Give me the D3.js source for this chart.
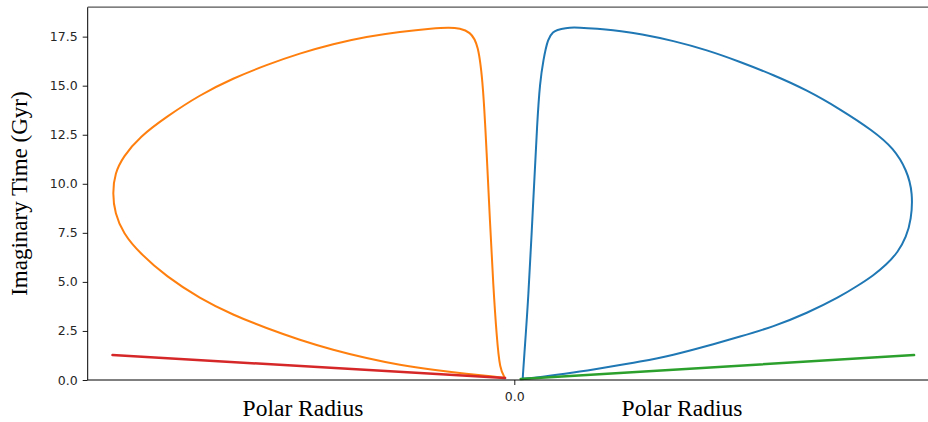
<!DOCTYPE html>
<html>
<head>
<meta charset="utf-8">
<script src="https://cdn.jsdelivr.net/npm/d3@7"></script>
<style>
  html, body { margin: 0; padding: 0; background: #fff; }
  svg { display: block; }
</style>
</head>
<body>
<div id="chart"></div>
<script>
// Polar radius vs imaginary time: two loops and two straight tracks
var blueR = [0.021, 0.024, 0.035, 0.0475, 0.0575, 0.064, 0.0725, 0.084, 0.0975, 0.106, 0.129, 0.1475, 0.181, 0.231, 0.264, 0.314, 0.3975, 0.481, 0.564, 0.6475, 0.731, 0.814, 0.8975, 0.9475, 0.981, 0.996, 0.9918, 0.9793, 0.959, 0.929, 0.8975, 0.857, 0.814, 0.731, 0.6475, 0.564, 0.481, 0.3975, 0.314, 0.231, 0.1475, 0.064, 0.021];
var blueT = [0.07, 1.02, 4.08, 9.17, 13.25, 15.14, 16.31, 17.43, 17.75, 17.84, 17.94, 17.97, 17.94, 17.87, 17.79, 17.64, 17.29, 16.82, 16.22, 15.55, 14.78, 13.81, 12.69, 11.82, 10.70, 9.52, 8.15, 7.29, 6.52, 5.86, 5.33, 4.79, 4.25, 3.40, 2.72, 2.21, 1.73, 1.27, 0.93, 0.65, 0.37, 0.14, 0.07];

var orangeR = [-0.023, -0.036, -0.044, -0.0525, -0.061, -0.069, -0.0775, -0.09, -0.111, -0.136, -0.161, -0.2025, -0.286, -0.369, -0.4525, -0.536, -0.619, -0.7025, -0.786, -0.869, -0.936, -0.9775, -0.998, -1.004, -0.998, -0.9775, -0.936, -0.869, -0.786, -0.7025, -0.619, -0.536, -0.4525, -0.369, -0.286, -0.2025, -0.119, -0.044, -0.023];
var orangeT = [0.10, 0.51, 2.21, 4.76, 8.15, 11.55, 14.95, 17.16, 17.75, 17.92, 17.97, 17.93, 17.75, 17.50, 17.13, 16.65, 16.06, 15.38, 14.53, 13.42, 12.40, 11.38, 10.54, 9.52, 8.50, 7.48, 6.46, 5.27, 4.16, 3.31, 2.64, 2.04, 1.53, 1.11, 0.76, 0.51, 0.31, 0.17, 0.10];

var greenR = [0.016, 0.999];
var greenT = [0.05, 1.27];

var redR = [-1.004, -0.023];
var redT = [1.27, 0.10];

var yTicks = [0, 2.5, 5, 7.5, 10, 12.5, 15, 17.5];
var xTicks = [0];

var width = 928, height = 422;
var margin = { left: 87.7, top: 7.2, bottom: 42 };

var svg = d3.select('#chart').append('svg')
  .attr('width', width)
  .attr('height', height);

svg.append('rect').attr('width', width).attr('height', height).attr('fill', '#fff');

var x = d3.scaleLinear().domain([-1.066, 1.066]).range([margin.left, margin.left + 853.2]);
var y = d3.scaleLinear().domain([0, 19]).range([height - margin.bottom, margin.top]);

function series(rs, ts) {
  return rs.map(function(r, i) { return [r, ts[i]]; });
}

var line = d3.line()
  .x(function(d) { return x(d[0]); })
  .y(function(d) { return y(d[1]); })
  .curve(d3.curveBasis);

var lines = [
  { data: series(blueR, blueT), color: '#1f77b4', w: 2 },
  { data: series(orangeR, orangeT), color: '#ff7f0e', w: 2 },
  { data: series(greenR, greenT), color: '#2ca02c', w: 2.5 },
  { data: series(redR, redT), color: '#d62728', w: 2.5 }
];

svg.append('g').selectAll('path')
  .data(lines)
  .enter().append('path')
  .attr('d', function(d) { return line(d.data); })
  .attr('fill', 'none')
  .attr('stroke', function(d) { return d.color; })
  .attr('stroke-width', function(d) { return d.w; })
  .attr('stroke-linejoin', 'round')
  .attr('stroke-linecap', 'round');

// Axes
var yAxis = d3.axisLeft(y).tickValues(yTicks).tickSize(5).tickPadding(5)
  .tickFormat(d3.format('.1f'));
var gy = svg.append('g')
  .attr('transform', 'translate(' + margin.left + ',0)')
  .call(yAxis);

var xAxis = d3.axisBottom(x).tickValues(xTicks).tickSize(5).tickPadding(7)
  .tickFormat(d3.format('.1f'));
var gx = svg.append('g')
  .attr('transform', 'translate(0,' + y(0) + ')')
  .call(xAxis);

[gx, gy].forEach(function(g) {
  g.select('.domain').remove();
  g.selectAll('.tick line').attr('stroke', '#000').attr('stroke-width', 0.9);
  g.selectAll('.tick text')
    .attr('fill', '#262626')
    .style('font-family', '"DejaVu Sans", sans-serif')
    .style('font-size', '12.5px');
});

// Spines
svg.append('line')
  .attr('x1', margin.left).attr('x2', width)
  .attr('y1', y(0)).attr('y2', y(0))
  .attr('stroke', '#000').attr('stroke-width', 1);
svg.append('line')
  .attr('x1', margin.left).attr('x2', margin.left)
  .attr('y1', y(19)).attr('y2', y(0))
  .attr('stroke', '#000').attr('stroke-width', 1);
svg.append('line')
  .attr('x1', margin.left).attr('x2', width)
  .attr('y1', y(19)).attr('y2', y(19))
  .attr('stroke', '#555').attr('stroke-width', 1.2);

// Labels
var serif = '"Liberation Serif", "DejaVu Serif", serif';
svg.append('text')
  .attr('transform', 'translate(27,' + ((y(0) + y(19)) / 2) + ') rotate(-90)')
  .attr('text-anchor', 'middle')
  .style('font-family', serif)
  .style('font-size', '23px')
  .attr('fill', '#000')
  .text('Imaginary Time (Gyr)');

svg.append('text')
  .attr('x', 303).attr('y', 416)
  .attr('text-anchor', 'middle')
  .style('font-family', serif)
  .style('font-size', '23.5px')
  .attr('fill', '#000')
  .text('Polar Radius');

svg.append('text')
  .attr('x', 682).attr('y', 416)
  .attr('text-anchor', 'middle')
  .style('font-family', serif)
  .style('font-size', '23.5px')
  .attr('fill', '#000')
  .text('Polar Radius');
</script>
</body>
</html>
